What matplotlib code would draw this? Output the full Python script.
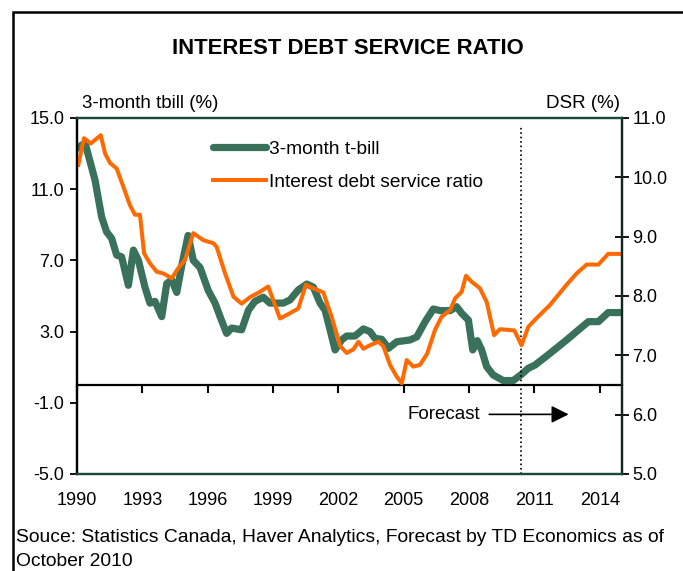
import matplotlib
matplotlib.use('Agg')
import matplotlib.pyplot as plt
from matplotlib.patches import Rectangle
from matplotlib.ticker import FormatStrFormatter

plt.rcParams['font.family'] = ['Liberation Sans', 'DejaVu Sans']

# 3-month t-bill (%), left axis
tbill_years = [1990.0, 1990.37, 1990.83, 1991.13, 1991.36, 1991.59, 1991.82, 1992.05,
               1992.36, 1992.59, 1992.82, 1993.12, 1993.35, 1993.58, 1993.89, 1994.12,
               1994.35, 1994.58, 1994.8, 1995.1, 1995.34, 1995.65, 1996.03, 1996.34,
               1996.57, 1996.87, 1997.1, 1997.56, 1997.87, 1998.17, 1998.55, 1998.86,
               1999.47, 1999.78, 2000.16, 2000.55, 2000.85, 2001.16, 2001.39, 2001.62,
               2001.85, 2002.15, 2002.38, 2002.76, 2003.15, 2003.45, 2003.68, 2003.99,
               2004.3, 2004.68, 2005.29, 2005.6, 2005.98, 2006.36, 2006.67, 2007.13,
               2007.43, 2007.66, 2007.97, 2008.17, 2008.38, 2008.58, 2008.81, 2009.11,
               2009.57, 2010.03, 2010.41, 2010.72, 2011.03, 2011.72, 2012.48, 2013.02,
               2013.48, 2013.94, 2014.39, 2014.93]
tbill = [13.3, 13.6, 11.5, 9.45, 8.6, 8.24, 7.3, 7.2,
         5.6, 7.58, 7.0, 5.5, 4.6, 4.7, 3.84, 5.7,
         5.9, 5.2, 6.65, 8.4, 7.0, 6.6, 5.3, 4.6,
         3.84, 2.9, 3.2, 3.1, 4.2, 4.7, 4.93, 4.6,
         4.6, 4.78, 5.34, 5.67, 5.5, 4.6, 4.2, 3.1,
         1.97, 2.53, 2.75, 2.75, 3.15, 3.0, 2.62, 2.57,
         2.06, 2.43, 2.53, 2.7, 3.55, 4.27, 4.18, 4.18,
         4.4, 4.03, 3.65, 1.97, 2.49, 1.97, 1.03, 0.56,
         0.25, 0.25, 0.6, 0.94, 1.12, 1.78, 2.53, 3.09,
         3.56, 3.56, 4.07, 4.07]

# interest debt service ratio (%), right axis
dsr_years = [1990.06, 1990.32, 1990.63, 1991.09, 1991.29, 1991.52, 1991.82, 1992.13,
             1992.43, 1992.66, 1992.89, 1993.08, 1993.35, 1993.66, 1993.96, 1994.35,
             1994.65, 1994.96, 1995.34, 1995.8, 1996.26, 1996.41, 1996.8, 1997.18,
             1997.56, 1997.94, 1998.4, 1998.78, 1999.32, 1999.78, 2000.16, 2000.51,
             2000.85, 2001.31, 2001.69, 2002.08, 2002.38, 2002.69, 2002.92, 2003.15,
             2003.45, 2003.84, 2004.07, 2004.37, 2004.68, 2004.91, 2005.14, 2005.44,
             2005.75, 2006.08, 2006.44, 2006.74, 2007.13, 2007.36, 2007.66, 2007.86,
             2008.12, 2008.5, 2008.81, 2009.15, 2009.42, 2010.08, 2010.41, 2010.72,
             2011.03, 2011.72, 2012.48, 2012.94, 2013.4, 2013.94, 2014.39, 2014.93]
dsr = [10.21, 10.66, 10.57, 10.71, 10.40, 10.24, 10.15, 9.84,
       9.53, 9.37, 9.37, 8.72, 8.55, 8.41, 8.38, 8.30,
       8.47, 8.61, 9.06, 8.94, 8.89, 8.83, 8.38, 7.99,
       7.87, 7.98, 8.07, 8.16, 7.62, 7.71, 7.79, 8.19,
       8.13, 8.06, 7.65, 7.16, 7.04, 7.10, 7.23, 7.11,
       7.17, 7.23, 7.15, 6.84, 6.64, 6.53, 6.92, 6.81,
       6.84, 7.03, 7.43, 7.65, 7.76, 7.96, 8.07, 8.34,
       8.24, 8.13, 7.90, 7.34, 7.44, 7.42, 7.17, 7.48,
       7.6, 7.85, 8.19, 8.38, 8.53, 8.53, 8.71, 8.71]

year_ticks = [1990, 1993, 1996, 1999, 2002, 2005, 2008, 2011, 2014]
left_ticks = [-5, -1, 3, 7, 11, 15]
right_ticks = [5, 6, 7, 8, 9, 10, 11]
forecast_start = 2010.37

green = '#3a715b'
orange = '#ff6a00'
dark_green = '#1c4a38'

W, H = 683, 571
fig = plt.figure(figsize=(W / 100, H / 100), dpi=100)
ax = fig.add_axes([77 / W, 1 - 474 / H, (621.5 - 77) / W, (474 - 118) / H])
ax2 = ax.twinx()

l1, = ax.plot(tbill_years, tbill, color=green, lw=5.2, solid_joinstyle='round',
              solid_capstyle='round', label='3-month t-bill')
l2, = ax2.plot(dsr_years, dsr, color=orange, lw=2.9, solid_joinstyle='round',
               label='Interest debt service ratio')

ax.set_xlim(1990, 2015)
ax.set_ylim(-5, 15)
ax2.set_ylim(5, 11)
ax.set_yticks(left_ticks)
ax2.set_yticks(right_ticks)
ax.yaxis.set_major_formatter(FormatStrFormatter('%.1f'))
ax2.yaxis.set_major_formatter(FormatStrFormatter('%.1f'))

ax.set_xticks(year_ticks)
ax.tick_params(axis='x', length=0, pad=13, labelsize=13)
ax.tick_params(axis='y', direction='out', length=5, width=1.3, pad=4, labelsize=13)
ax2.tick_params(axis='y', direction='inout', length=10, width=1.3, pad=3, labelsize=13)

# zero line with year ticks
sec = ax.secondary_xaxis(0.25)
sec.set_xticks(year_ticks)
sec.tick_params(axis='x', direction='out', length=6, width=1.5, labelbottom=False)
sec.spines['bottom'].set_linewidth(1.6)
sec.spines['bottom'].set_color('black')

for a in (ax, ax2):
    a.spines['top'].set_color(dark_green)
    a.spines['bottom'].set_color(dark_green)
    a.spines['right'].set_color('#0f2a1e')
    a.spines['left'].set_color('black')
    for s in a.spines.values():
        s.set_linewidth(1.6)

# forecast marker
ax.axvline(forecast_start, ymin=0, ymax=0.98, color='black', ls=':', lw=1.2)
ax.annotate('', xy=(2012.7, -1.65), xytext=(2008.8, -1.65),
            arrowprops=dict(arrowstyle='-|>', mutation_scale=26, color='black', lw=1.2))
ax.text(2008.5, -1.65, 'Forecast', ha='right', va='center', fontsize=13.5)

ax.legend([l1, l2], [l1.get_label(), l2.get_label()], loc='upper left',
          bbox_to_anchor=(0.218, 0.985), frameon=False, fontsize=13.8,
          handlelength=2.75, handletextpad=0.2, labelspacing=0.8)

fig.text(82 / W, 1 - 103 / H, '3-month tbill (%)', ha='left', va='center', fontsize=13.5)
fig.text(620 / W, 1 - 103 / H, 'DSR (%)', ha='right', va='center', fontsize=13.5)
fig.text(348 / W, 1 - 48 / H, 'INTEREST DEBT SERVICE RATIO', ha='center', va='center',
         fontsize=15.9, fontweight='bold')
fig.text(16 / W, 1 - 537 / H, 'Souce: Statistics Canada, Haver Analytics, Forecast by TD Economics as of',
         ha='left', va='center', fontsize=13.9)
fig.text(16 / W, 1 - 561 / H, 'October 2010', ha='left', va='center', fontsize=13.9)

fig.patches.append(Rectangle((13 / W, -0.05), 1.2, 1 - 12 / H + 0.05, transform=fig.transFigure,
                             fill=False, edgecolor='black', lw=1.8))

fig.savefig('out.png', dpi=100)
